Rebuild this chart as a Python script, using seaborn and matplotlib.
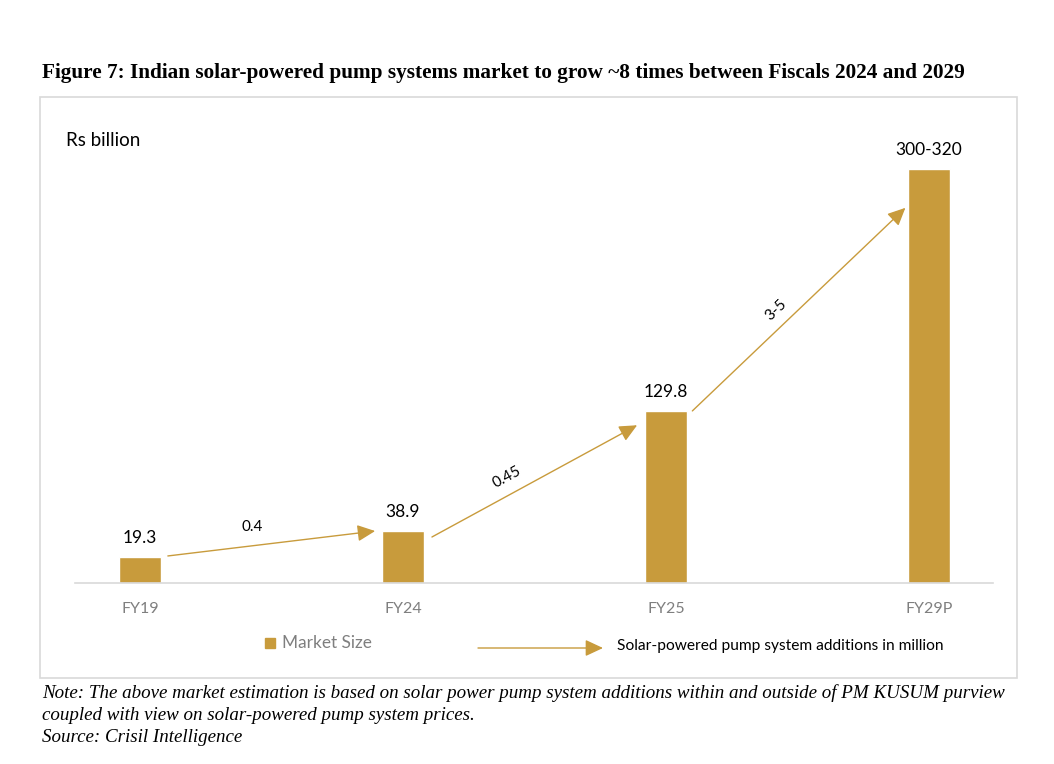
import numpy as np
import pandas as pd
import matplotlib
matplotlib.use("Agg")
import matplotlib.pyplot as plt
from matplotlib.patches import Rectangle
import seaborn as sns

# data
years = ["FY19", "FY24", "FY25", "FY29P"]
market_size = [19.3, 38.9, 129.8, 312]
value_labels = ["19.3", "38.9", "129.8", "300-320"]
additions = ["0.4", "0.45", "3-5"]
# arrow start / end heights (Rs billion scale) between neighbouring bars
arrow_start_y = [20.4, 34.7, 129.8]
arrow_end_y = [39.2, 119.0, 283.0]

gold = "#C89B3C"
sans = ["Lato", "DejaVu Sans"]
serif = ["Liberation Serif", "DejaVu Serif"]

sns.set_theme(style="white")
plt.rcParams["font.family"] = sans
plt.rcParams["text.color"] = "black"

df = pd.DataFrame({"year": years, "size": market_size})

fig = plt.figure(figsize=(10.54, 7.64), dpi=100)
W, H = 1054, 764
ax = fig.add_axes([75 / W, (H - 583) / H, (993 - 75) / W, (583 - 119) / H])

sns.barplot(data=df, x="year", y="size", color=gold, width=0.16,
            saturation=1, ax=ax)
ax.set_xlim(-0.247, 3.243)
ax.set_ylim(0, 350)
ax.set_xlabel("")
ax.set_ylabel("")
ax.set_yticks([])
for s in ["top", "right", "left"]:
    ax.spines[s].set_visible(False)
ax.spines["bottom"].set_color("#d9d9d9")
ax.spines["bottom"].set_linewidth(1.2)
ax.tick_params(axis="x", length=0, pad=14, labelsize=11.5, labelcolor="#7f7f7f")

for i, (v, lab) in enumerate(zip(market_size, value_labels)):
    ax.annotate(lab, (i, v), xytext=(0, 8), textcoords="offset points",
                ha="center", va="bottom", fontsize=12.5, color="black")

# growth arrows between bars
starts_x = [0.106, 1.11, 2.10]
ends_x = [0.894, 1.89, 2.91]
label_pos = [(0.426, 42), (1.395, 80), (2.418, 206)]
label_rot = [0, 28.6, 43.5]
head = "-|>,head_length=0.9,head_width=0.42"
for k in range(len(additions)):
    ax.annotate("", xy=(ends_x[k], arrow_end_y[k]),
                xytext=(starts_x[k], arrow_start_y[k]),
                arrowprops=dict(arrowstyle=head, color=gold, lw=1,
                                shrinkA=0, shrinkB=0))
    ax.text(label_pos[k][0], label_pos[k][1], additions[k], rotation=label_rot[k],
            ha="center", va="center", fontsize=11, color="black")

# frame box
fig.patches.append(Rectangle((40 / W, (H - 678) / H), (1017 - 40) / W, (678 - 97) / H,
                             transform=fig.transFigure, fill=False,
                             edgecolor="#d9d9d9", lw=1.2))

fig.text(42 / W, (H - 73) / H, "Figure 7: Indian solar-powered pump systems market to grow ~8 times between Fiscals 2024 and 2029",
         family=serif, fontweight="bold", fontsize=15.3, va="center", ha="left")
fig.text(66 / W, (H - 140) / H, "Rs billion", fontsize=13.5, va="center", ha="left")

# legend
fig.patches.append(Rectangle((265 / W, (H - 648) / H), 10 / W, 10 / H,
                             transform=fig.transFigure, color=gold))
fig.text(282 / W, (H - 643) / H, "Market Size", fontsize=12.4, color="#7f7f7f",
         va="center", ha="left")
ax.annotate("", xy=(603 / W, (H - 648) / H), xytext=(478 / W, (H - 648) / H),
            xycoords="figure fraction", textcoords="figure fraction",
            arrowprops=dict(arrowstyle=head, color=gold, lw=1,
                            shrinkA=0, shrinkB=0),
            annotation_clip=False)
fig.text(617 / W, (H - 646) / H, "Solar-powered pump system additions in million",
         fontsize=11.2, color="black", va="center", ha="left")

note = ["Note: The above market estimation is based on solar power pump system additions within and outside of PM KUSUM purview",
        "coupled with view on solar-powered pump system prices.",
        "Source: Crisil Intelligence"]
for j, line in enumerate(note):
    fig.text(42 / W, (H - 693 - 22 * j) / H, line, family=serif, style="italic",
             fontsize=13.7, va="center", ha="left")

fig.savefig("out.png", dpi=100)
